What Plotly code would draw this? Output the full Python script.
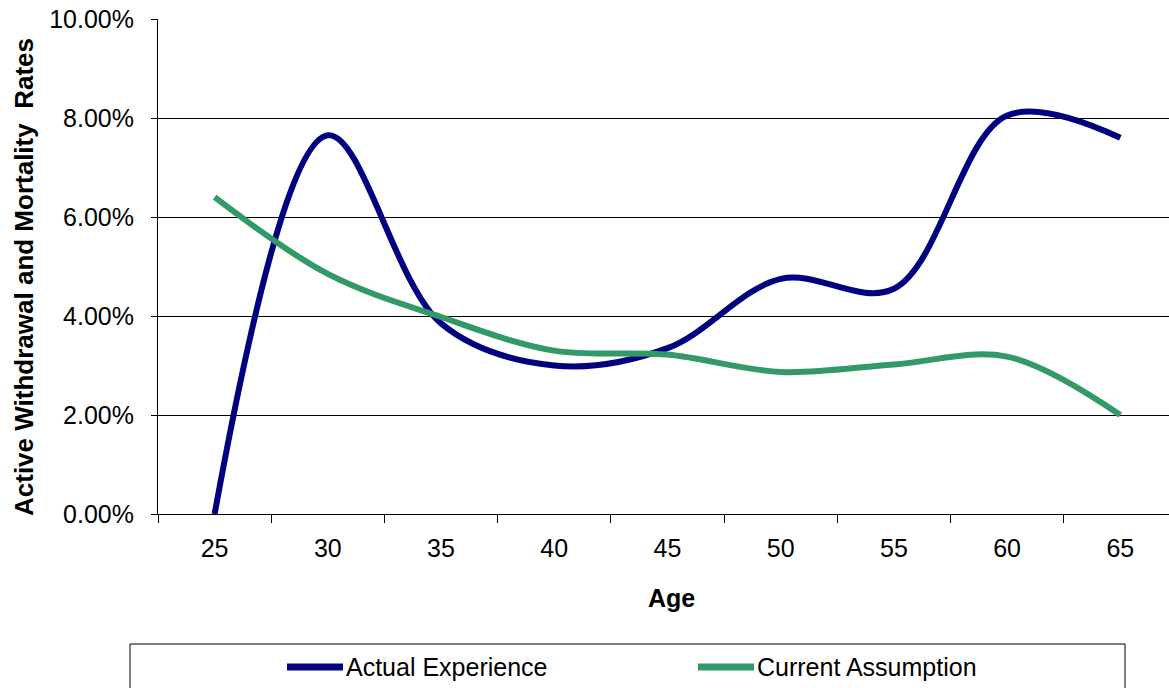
import plotly.graph_objects as go

# Age bands and rates (fractions)
ages = [25, 30, 35, 40, 45, 50, 55, 60, 65]
age_labels = ["25", "30", "35", "40", "45", "50", "55", "60", "65"]
actual_experience = [0.0, 0.0765, 0.0385, 0.030, 0.0335, 0.0475, 0.0455, 0.0805, 0.076]
current_assumption = [0.064, 0.0485, 0.0398, 0.033, 0.0322, 0.0287, 0.0302, 0.0318, 0.020]
y_ticks = [0.0, 0.02, 0.04, 0.06, 0.08, 0.10]
series_names = ["Actual Experience", "Current Assumption"]
series_colors = ["#000080", "#339966"]

W, H = 1169, 688
ML, MR, MT, MB = 158, 0, 19, 174
pw, ph = W - ML - MR, H - MT - MB

def px_x(p):
    return (p - ML) / pw

def px_y(p):
    return (H - MB - p) / ph

FONT = "Liberation Sans, Arial, sans-serif"

fig = go.Figure()
for name, vals, col in zip(series_names, [actual_experience, current_assumption], series_colors):
    fig.add_trace(go.Scatter(
        x=ages, y=vals, name=name, mode="lines", showlegend=False,
        line=dict(color=col, width=6, shape="spline", smoothing=1.0),
    ))

# Boundaries between age bands for the tick marks
step = ages[1] - ages[0]
bounds = [a - step / 2 for a in ages] + [ages[-1] + step / 2]

fig.update_xaxes(
    range=[ages[0] - step / 2, ages[0] - step / 2 + step * 8.93],
    tickvals=ages, ticktext=age_labels, ticks="", ticklabelstandoff=12,
    minor=dict(tickvals=bounds, ticks="outside", ticklen=8, tickcolor="black", tickwidth=1, showgrid=False),
    showline=True, linecolor="black", linewidth=1, showgrid=False, zeroline=False,
    tickfont=dict(family=FONT, size=25, color="black"),
)
fig.update_yaxes(
    range=[0, 0.10], tickvals=y_ticks, tickformat=".2%",
    ticks="outside", ticklen=6, tickcolor="black", ticklabelstandoff=12,
    showline=True, linecolor="black", linewidth=1,
    showgrid=True, gridcolor="black", gridwidth=1, zeroline=False,
    tickfont=dict(family=FONT, size=25, color="black"),
)

annotations = [
    dict(text="<b>Age</b>", xref="paper", yref="paper", x=px_x(671), y=px_y(598),
         xanchor="center", yanchor="middle", showarrow=False,
         font=dict(family=FONT, size=25, color="black")),
    dict(text="<b>Active Withdrawal and Mortality\u00a0 Rates</b>", xref="paper", yref="paper",
         x=px_x(24), y=px_y(277), xanchor="center", yanchor="middle", textangle=-90,
         showarrow=False, font=dict(family=FONT, size=26, color="black")),
]

# Legend frame with line keys and labels
shapes = [dict(type="rect", xref="paper", yref="paper",
               x0=px_x(130), x1=px_x(1125), y0=px_y(644), y1=px_y(720),
               line=dict(color="black", width=1), fillcolor="rgba(0,0,0,0)", layer="below")]
key_starts = [287, 698]
for name, col, x0 in zip(series_names, series_colors, key_starts):
    shapes.append(dict(type="line", xref="paper", yref="paper",
                       x0=px_x(x0), x1=px_x(x0 + 56), y0=px_y(667), y1=px_y(667),
                       line=dict(color=col, width=7)))
    annotations.append(dict(text=name, xref="paper", yref="paper",
                            x=px_x(x0 + 57), y=px_y(667), xanchor="left", yanchor="middle",
                            showarrow=False, font=dict(family=FONT, size=25, color="black")))

fig.update_layout(
    width=W, height=H,
    margin=dict(l=ML, r=MR, t=MT, b=MB, autoexpand=False),
    paper_bgcolor="white", plot_bgcolor="white",
    showlegend=False,
    shapes=shapes, annotations=annotations,
)

fig.write_html("out.html")
